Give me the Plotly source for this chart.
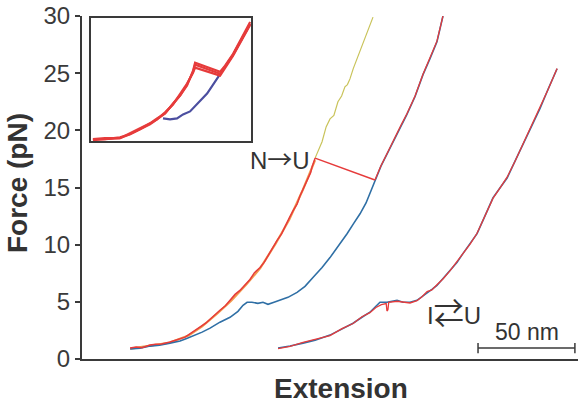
import plotly.graph_objects as go

# ---------------- data (extension in nm, force in pN) ----------------
# Curve 1, native-state stretching (red) up to the N->U rip
ext_native = [24.8, 28, 31, 35.1, 38, 41, 45.4, 49, 53.2, 57, 60.9, 64, 66.1, 69, 71.2, 74,
              76.4, 79, 81.5, 84, 86.7, 89, 91.9, 94, 96.0, 98, 100.6, 103, 104.8, 107,
              108.9, 111, 112.5, 114, 116.1, 118, 118.7, 120.3]
force_native = [0.96, 1.05, 0.98, 1.22, 1.3, 1.32, 1.48, 1.7, 1.91, 2.35, 2.78, 3.15, 3.48, 3.95,
                4.26, 4.65, 5.13, 5.65, 6.0, 6.45, 6.96, 7.55, 8.0, 8.45, 9.04, 9.65, 10.35,
                10.95, 11.65, 12.35, 12.96, 13.55, 14.26, 14.85, 15.57, 16.3, 16.78, 17.57]
# Orange trace underneath the red native curve
ext_orange = [25, 35, 45, 55, 62, 70, 77, 85, 92, 100, 107, 114, 120.3]
force_orange = [0.9, 1.15, 1.42, 2.05, 2.85, 4.0, 5.1, 6.55, 7.95, 10.1, 12.2, 14.8, 17.4]
# Yellow continuation of the native curve above the rip force
ext_yellow = [120.3, 122, 123.9, 126, 128.0, 130, 132.1, 134, 135.7, 137, 138.3, 140, 140.9,
              142, 143.5, 145, 146.6, 148, 150.2]
force_yellow = [17.57, 18.2, 19.0, 20.3, 21.0, 21.3, 22.5, 23.0, 23.8, 24.0, 24.5, 25.4, 25.8,
                26.2, 26.9, 27.5, 28.2, 28.8, 29.9]
# N -> U rip
ext_rip = [120.3, 151.2]
force_rip = [17.57, 15.65]
# Unfolded-state stretching after the rip (red)
ext_unfold = [151.2, 154.3, 157.4, 161.5, 164.5, 167.7, 171.9, 176.0, 179.6, 183.2, 186.3]
force_unfold = [15.65, 16.9, 17.95, 19.45, 20.4, 21.45, 23.0, 24.9, 26.3, 27.8, 30.0]
# Curve 1 blue (relaxation / refolding)
ext_blue1 = [24.8, 30, 35.1, 40, 45.4, 50.6, 54, 58.3, 62, 66.1, 71.2, 76.4, 80.5, 83.1, 85.2,
             87.7, 90.8, 93.4, 96.0, 99.1, 102.2, 106.3, 111.0, 115.1, 119.2, 123.9, 128.0,
             132.1, 136.8, 140.4, 143.5, 146.6, 148.6, 151.2, 154.3, 157.4, 161.5, 164.5,
             167.7, 171.9, 176.0, 179.6, 183.2, 186.3]
force_blue1 = [0.87, 0.95, 1.13, 1.2, 1.39, 1.57, 1.8, 2.09, 2.35, 2.7, 3.22, 3.65, 4.17, 4.7,
               4.96, 4.96, 4.87, 4.96, 4.78, 4.96, 5.13, 5.39, 5.83, 6.35, 7.13, 8.0, 8.87,
               9.83, 10.96, 11.91, 12.7, 13.65, 14.43, 15.57, 16.87, 17.91, 19.39, 20.3,
               21.39, 22.96, 24.87, 26.26, 27.74, 30.0]
# Curve 2 (I <-> U hopping), blue and red
ext_blue2 = [101.2, 107.4, 114.1, 120.3, 128.0, 134.2, 139.9, 144.5, 148.6, 151.7, 153.8, 157.4,
             160.0, 162.6, 165.7, 169.3, 172.9, 175.5, 178.1, 180.6, 183.2, 186.3, 189.9, 193.5,
             196.6, 200.3, 203.9, 208.0, 212.1, 215.7, 219.4, 223.5, 227.6, 231.7, 236.4, 240.5,
             245.2]
force_blue2 = [0.96, 1.13, 1.39, 1.65, 2.09, 2.61, 3.13, 3.65, 4.09, 4.61, 4.96, 4.96, 5.04, 5.13,
               4.96, 4.96, 5.13, 5.48, 5.83, 6.09, 6.43, 7.04, 7.74, 8.43, 9.22, 10.09, 10.96,
               12.52, 14.09, 14.96, 15.83, 17.3, 18.78, 20.35, 21.91, 23.57, 25.39]
ext_red2 = [101.2, 107.4, 114.1, 120.3, 128.0, 134.2, 139.9, 144.5, 148.6, 151.7, 154.5, 157.0,
            157.4, 157.9, 158.3, 162.6, 165.7, 169.3, 172.9, 175.5, 178.1, 180.6, 183.2, 186.3,
            189.9, 193.5, 196.6, 200.3, 203.9, 208.0, 212.1, 215.7, 219.4, 223.5, 227.6, 231.7,
            236.4, 240.5, 245.2]
force_red2 = [0.9, 1.1, 1.45, 1.7, 2.05, 2.65, 3.1, 3.7, 4.05, 4.5, 4.75, 4.85, 4.2, 4.3, 4.95,
              5.05, 5.0, 4.9, 5.1, 5.45, 5.9, 6.05, 6.5, 7.0, 7.7, 8.5, 9.2, 10.05, 11.0, 12.45,
              14.05, 14.95, 15.9, 17.3, 18.8, 20.3, 21.95, 23.55, 25.4]

# Inset (arbitrary units): repeated pulls over the N -> U transition
in_red_x = [2, 14, 29, 39, 49, 59, 66, 74, 82, 89, 96, 102, 104, 129, 134, 142, 149, 156, 159]
in_red_y1 = [2, 2, 3, 7, 12, 18, 22, 28, 37, 46, 57, 70, 77, 68, 75, 87, 100, 113, 118]
in_red_y2 = [1, 2, 4, 7, 12, 17, 22, 29, 37, 47, 58, 69, 74, 66, 74, 86, 99, 112, 117]
in_red_y3 = [2, 3, 3, 8, 13, 18, 23, 28, 38, 46, 56, 71, 79, 70, 76, 88, 101, 114, 120]
in_blue_x = [72, 79, 86, 92, 99, 109, 116, 122, 129, 134, 142, 149, 156, 159]
in_blue_y = [23, 22, 23, 27, 30, 40, 48, 57, 68, 75, 87, 100, 113, 118]

y_ticks = [0, 5, 10, 15, 20, 25, 30]
scale_bar_nm = [204.4, 254.4]
scale_bar_force = 0.96

RED = "#e63b3b"
BLUE = "#2f6fa5"
YEL = "#c9c35a"
ORG = "#f29a4e"
PURP = "#4c4fa0"
AX = "#3a3a3a"

fig = go.Figure()

def line(x, y, color, w, xa="x", ya="y"):
    fig.add_trace(go.Scatter(x=x, y=y, mode="lines", xaxis=xa, yaxis=ya,
                             line=dict(color=color, width=w), hoverinfo="skip"))

line(ext_orange, force_orange, ORG, 2.2)
line(ext_yellow, force_yellow, YEL, 1.2)
line(ext_blue1, force_blue1, BLUE, 1.6)
line(ext_native, force_native, RED, 1.5)
line(ext_rip, force_rip, RED, 1.5)
line(ext_unfold, force_unfold, RED, 1.3)
line(ext_blue2, force_blue2, BLUE, 1.6)
line(ext_red2, force_red2, RED, 1.3)

line(in_blue_x, in_blue_y, PURP, 2.2, "x2", "y2")
for yy in (in_red_y1, in_red_y2, in_red_y3):
    line(in_red_x, yy, RED, 2.2, "x2", "y2")

# scale bar
fig.add_shape(type="line", xref="x", yref="y", x0=scale_bar_nm[0], x1=scale_bar_nm[1],
              y0=scale_bar_force, y1=scale_bar_force, line=dict(color=AX, width=1.5))
for xb in scale_bar_nm:
    fig.add_shape(type="line", xref="x", yref="y", x0=xb, x1=xb,
                  y0=scale_bar_force - 0.45, y1=scale_bar_force + 0.45,
                  line=dict(color=AX, width=1.5))

FONT = "Liberation Sans, Arial, sans-serif"
ann = [
    dict(text="N<span style='font-family:Noto Sans CJK JP;font-size:25px'>→</span>U",
         x=118.5, y=17.6, xref="x", yref="y", xanchor="right", yanchor="middle",
         font=dict(size=24, color="#333", family=FONT), showarrow=False),
    dict(text="I<span style='font-family:Noto Sans CJK JP;font-size:30px'>⇄</span>U",
         x=177.0, y=4.2, xref="x", yref="y", xanchor="left", yanchor="middle",
         font=dict(size=24, color="#333", family=FONT), showarrow=False),
    dict(text="50 nm", x=229.5, y=2.4, xref="x", yref="y", xanchor="center", yanchor="middle",
         font=dict(size=23, color="#333", family=FONT), showarrow=False),
    dict(text="<b>Extension</b>", x=(341 - 82) / 496, y=(359 - 389) / 345, xref="paper",
         yref="paper", xanchor="center", yanchor="middle",
         font=dict(size=28, color="#333", family=FONT), showarrow=False),
    dict(text="<b>Force (pN)</b>", x=(17 - 82) / 496, y=(359 - 182) / 345, xref="paper",
         yref="paper", xanchor="center", yanchor="middle", textangle=-90,
         font=dict(size=28, color="#333", family=FONT), showarrow=False),
]

fig.update_layout(
    width=580, height=405,
    margin=dict(l=82, r=2, t=14, b=46),
    paper_bgcolor="white", plot_bgcolor="white",
    showlegend=False,
    annotations=ann,
    font=dict(family=FONT, color="#333"),
    xaxis=dict(range=[0, 256], showgrid=False, zeroline=False, showticklabels=False,
               ticks="", showline=True, linecolor=AX, linewidth=2),
    yaxis=dict(range=[0, 30], showgrid=False, zeroline=False, tickvals=y_ticks,
               ticks="outside", ticklen=5, tickwidth=1.5, tickcolor=AX,
               showline=True, linecolor=AX, linewidth=2,
               tickfont=dict(size=24, color="#3a3a3a", family=FONT)),
    xaxis2=dict(domain=[0.018, 0.341], anchor="y2", range=[0, 160], showgrid=False,
                zeroline=False, showticklabels=False, ticks="", showline=True, mirror=True,
                linecolor=AX, linewidth=1.5),
    yaxis2=dict(domain=[0.635, 0.994], anchor="x2", range=[0, 124], showgrid=False,
                zeroline=False, showticklabels=False, ticks="", showline=True, mirror=True,
                linecolor=AX, linewidth=1.5),
)

fig.write_html("out.html", config={"displayModeBar": False},
               post_script="document.body.style.margin='0';document.body.style.overflow='hidden';")
